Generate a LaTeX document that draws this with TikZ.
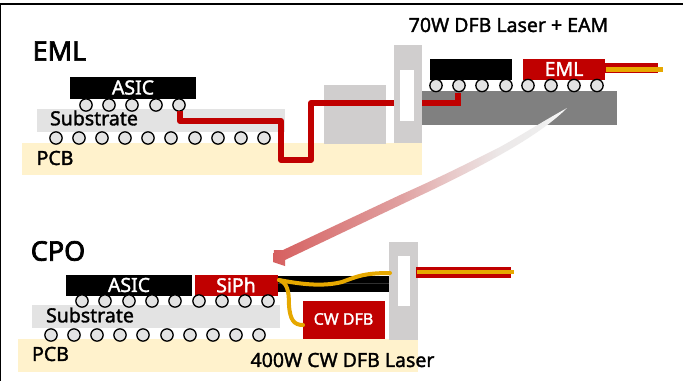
\documentclass[tikz,border=0pt]{standalone}
\usepackage{fontspec}
\setmainfont[FakeBold=1.6]{Noto Sans}
\newfontfamily\titlefont[FakeBold=2.6]{Noto Sans}
\definecolor{redc}{HTML}{C00000}
\definecolor{orc}{HTML}{E6A800}
\definecolor{pcbc}{HTML}{FFF2CC}
\definecolor{subc}{HTML}{E3E3E3}
\definecolor{blockc}{HTML}{D0CECE}
\definecolor{seamc}{HTML}{303030}
\pgfdeclarehorizontalshading{arrowfade}{100bp}{
  rgb(0bp)=(.84,.376,.376);
  rgb(25bp)=(.84,.376,.376);
  rgb(46.6bp)=(.878,.627,.627);
  rgb(55bp)=(.91,.784,.784);
  rgb(63.6bp)=(.925,.91,.91);
  rgb(70.4bp)=(.933,.933,.933);
  rgb(75bp)=(.973,.973,.973);
  rgb(100bp)=(.973,.973,.973)}
\tikzset{
  ball/.style={circle,draw=black,line width=1.3pt,fill=subc,minimum size=12.3pt,inner sep=0pt},
  trace/.style={draw=redc,line width=6pt,line join=round},
  wave/.style={draw=orc,line width=4pt,line cap=round},
  title/.style={font=\titlefont\fontsize{27}{27}\selectfont,text=black,inner sep=0pt},
  lab/.style={font=\fontsize{19.5}{19.5}\selectfont,text=black,inner sep=0pt},
  chip/.style={font=\fontsize{19.5}{19.5}\selectfont,text=white,inner sep=0pt},
}
\begin{document}
\begin{tikzpicture}[x=1pt,y=-1pt]
\useasboundingbox (0,0) rectangle (683,381);
\fill[white] (0,0) rectangle (683,381);
\fill[black] (0,3.3) rectangle (683,4.7);
\fill[black] (0,3.3) rectangle (1,381);
% EML
\node[title] (emlt) at (59.5,51) {EML};
\fill[pcbc] (22,143) rectangle (422,175);
\fill[subc] (37,109) rectangle (285,132);
\fill[black] (70,77) rectangle (196,99);
\node[chip] (asic1) at (133,87.5) {ASIC};
\node[lab] (sub1) at (94,118) {Substrate};
\node[lab] (pcb1) at (55,158) {PCB};
\fill[blockc] (324,85) rectangle (386,144);
\fill[blockc] (394,45) rectangle (422,143);
\fill[white] (400,70) rectangle (414,121);
\fill[gray] (422,91) rectangle (617,125);
\foreach \x/\n in {86/a,109/b,132/c,156/d,179/e} \node[ball] (u\n) at (\x,105) {};
\foreach \x in {56,79,102,125,148,171,195,218,241,264} \node[ball] at (\x,138) {};
\coordinate (t1) at (180,111);
\coordinate (t2) at (180,121);
\coordinate (t3) at (281,121);
\coordinate (t4) at (281,160);
\coordinate (t5) at (311,160);
\coordinate (t6) at (311,103);
\coordinate (t7) at (394,103);
\draw[trace] (t1) -- (t2) -- (t3) -- (t4) -- (t5) -- (t6) -- (t7);
\fill[black] (430,59) rectangle (512,80);
\fill[redc] (523,59) rectangle (605,80);
\node[chip] (emlc) at (564,69) {EML};
\foreach \x in {436,459,482,506,528,551,574,597} \node[ball] at (\x,85.5) {};
\coordinate (t8) at (422,103);
\coordinate (t9) at (458,103);
\coordinate (t10) at (458,93);
\draw[trace,line join=miter] (t8) -- (t9) -- (t10);
\fill[redc] (605,63) rectangle (658,73);
\fill[orc] (606,67) rectangle (663,72);
\node[lab] (tit70) at (508.5,25) {70W DFB Laser + EAM};
% arrow
\shade[shading=arrowfade]
  (567,108) .. controls (540,123) and (520,136) .. (500,147)
  .. controls (470,162) and (445,175) .. (400,195)
  -- (283,250) -- (274,250) -- (273,262) -- (285,266) -- (285,260)
  -- (413,199)
  .. controls (445,184) and (475,169) .. (500,155)
  .. controls (525,141) and (550,125) .. (567,108) -- cycle;
% CPO
\node[title] (cpot) at (58,251) {CPO};
\fill[pcbc] (18,339) rectangle (418,372);
\fill[subc] (32,305) rectangle (280,328);
\fill[black] (66,275) rectangle (192,296);
\fill[redc] (195,275) rectangle (278,296);
\node[chip] (asic2) at (129,285) {ASIC};
\node[chip] (siph) at (236,285) {SiPh};
\node[lab] (sub2) at (90,315) {Substrate};
\node[lab] (pcb2) at (50.5,354) {PCB};
\foreach \x in {82,105,129,152,175,199,222,245,268} \node[ball] at (\x,301) {};
\foreach \x in {51,74,97,120,143,167,190,213,236,259} \node[ball] at (\x,335) {};
\fill[black] (278,276) rectangle (390,292);
\fill[seamc] (278,283) rectangle (390,283.5);
\fill[redc] (303,301) rectangle (385,339);
\node[font=\fontsize{16}{16}\selectfont,text=white,inner sep=0pt] (cw) at (343.5,319) {CW DFB};
\fill[blockc] (389,242) rectangle (418,340);
\fill[white] (398,256) rectangle (410,306);
\fill[redc] (416,267) rectangle (511,278);
\fill[orc] (417,270) rectangle (514,274);
\coordinate (w1) at (279,280);
\coordinate (w2) at (390,273);
\coordinate (w3) at (303,325);
\draw[wave] (w1) .. controls (300,284) and (322,287) .. (342,282) .. controls (358,276) and (365,273) .. (w2);
\draw[wave] (w1) .. controls (287,283) and (289,290) .. (289,305) .. controls (290,320) and (294,325) .. (w3);
\node[lab] (tit400) at (342.5,360) {400W CW DFB Laser};
\end{tikzpicture}
\end{document}
